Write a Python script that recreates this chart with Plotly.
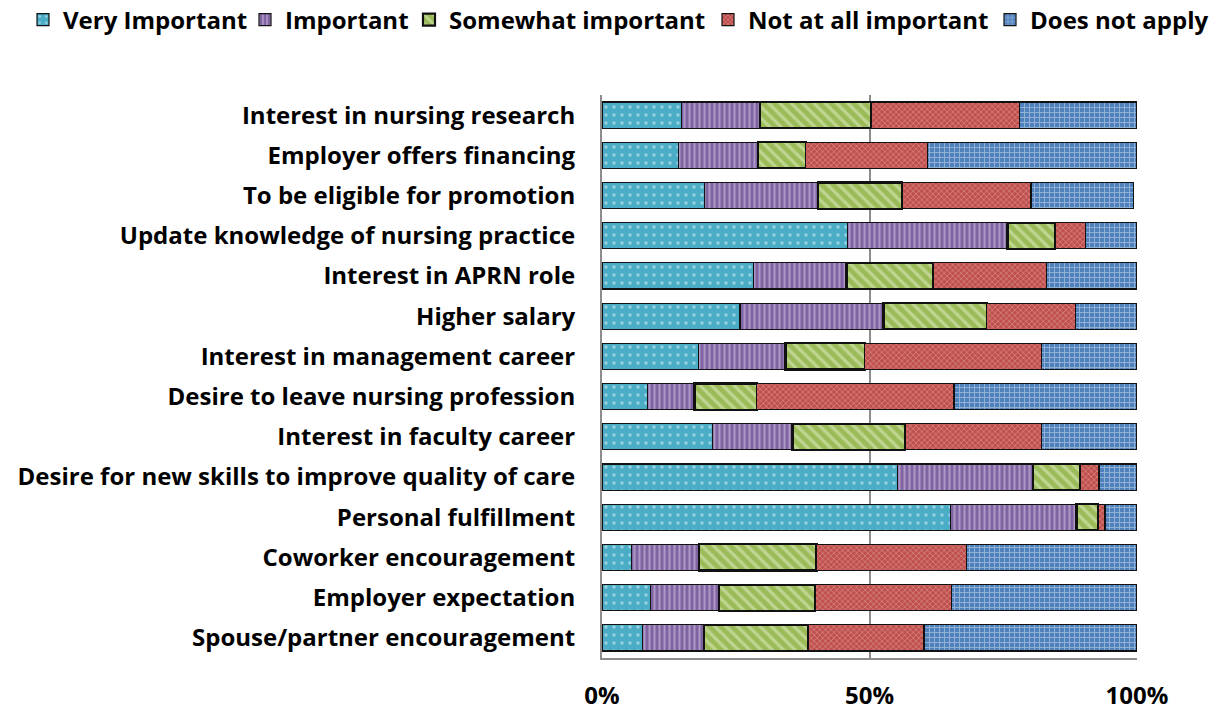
import plotly.graph_objects as go

categories = [
    "Interest in nursing research",
    "Employer offers financing",
    "To be eligible for promotion",
    "Update knowledge of nursing practice",
    "Interest in APRN role",
    "Higher salary",
    "Interest in management career",
    "Desire to leave nursing profession",
    "Interest in faculty career",
    "Desire for new skills to improve quality of care",
    "Personal fulfillment",
    "Coworker encouragement",
    "Employer expectation",
    "Spouse/partner encouragement",
]

very_important = [14.9, 14.3, 19.1, 45.9, 28.3, 25.8, 18.1, 8.5, 20.7, 55.2, 65.1, 5.5, 9.0, 7.5]
important = [14.7, 14.9, 21.2, 29.9, 17.4, 26.8, 16.2, 8.8, 14.9, 25.3, 23.6, 12.7, 12.8, 11.6]
somewhat_important = [20.7, 8.9, 15.8, 8.9, 16.2, 19.3, 14.8, 11.6, 21.1, 8.9, 4.0, 21.9, 18.0, 19.5]
not_at_all_important = [27.7, 22.7, 24.1, 5.6, 21.2, 16.6, 33.0, 36.9, 25.4, 3.5, 1.3, 28.0, 25.6, 21.6]
does_not_apply = [22.0, 39.2, 19.1, 9.7, 16.9, 11.5, 17.9, 34.2, 17.9, 7.1, 6.0, 31.9, 34.6, 39.8]

series_names = ["Very Important", "Important", "Somewhat important", "Not at all important", "Does not apply"]
series_values = [very_important, important, somewhat_important, not_at_all_important, does_not_apply]

tick_vals = [0, 50, 100]
tick_text = ["0%", "50%", "100%"]

styles = [
    dict(color="#4BACC6", shape=".", fg="#DDF3F8", size=8, sol=0.15, lw=1.2),
    dict(color="#8064A2", shape="|", fg="#D9CCEA", size=5, sol=0.4, lw=1.2),
    dict(color="#9BBB59", shape="\\", fg="#E3EFC8", size=8, sol=0.4, lw=2.2),
    dict(color="#C0504D", shape="x", fg="#F2CFCE", size=4, sol=0.3, lw=1.2),
    dict(color="#4F81BD", shape="+", fg="#D5E3F4", size=5, sol=0.35, lw=1.2),
]

# page body has an 8px margin; the figure is sized/positioned to compensate
OFF = 8
W, H = 1218 - OFF, 709 - OFF

# legend item text start positions (screen px)
legend_text_x = [63, 285, 449, 748, 1030]

FONT = "Open Sans"
FS = 24

fig = go.Figure()
legend_ids = ["legend", "legend2", "legend3", "legend4", "legend5"]
for name, vals, st, lid in zip(series_names, series_values, styles, legend_ids):
    fig.add_trace(go.Bar(
        name=name,
        y=categories,
        x=vals,
        orientation="h",
        legend=lid,
        marker=dict(
            color=st["color"],
            line=dict(color="#111111", width=st["lw"]),
            pattern=dict(shape=st["shape"], fgcolor=st["fg"], size=st["size"],
                         solidity=st["sol"], fillmode="overlay"),
        ),
    ))

legend_common = dict(
    orientation="h",
    xref="container", yref="container",
    xanchor="left", yanchor="middle",
    y=1 - (20 - OFF) / H,
    font=dict(family=FONT, size=FS, color="black", weight="bold"),
    itemwidth=30,
    bgcolor="rgba(0,0,0,0)",
    borderwidth=0,
)
layout_legends = {}
for lid, tx in zip(legend_ids, legend_text_x):
    d = dict(legend_common)
    d["x"] = (tx - OFF - 40) / W
    layout_legends[lid] = d

fig.update_layout(
    barmode="stack",
    bargap=0.35,
    width=W,
    height=H,
    margin=dict(l=602 - OFF, r=1218 - 1137, t=95 - OFF, b=709 - 658, autoexpand=False),
    plot_bgcolor="white",
    paper_bgcolor="white",
    font=dict(family=FONT, size=FS, color="black", weight="bold"),
    showlegend=True,
    **layout_legends,
)

fig.update_xaxes(
    range=[0, 100],
    tickvals=tick_vals,
    ticktext=tick_text,
    showgrid=True,
    gridcolor="#8C8C8C",
    gridwidth=2,
    showline=True,
    linecolor="#8C8C8C",
    linewidth=2,
    ticks="",
    ticklabelstandoff=15,
    zeroline=False,
    tickfont=dict(family=FONT, size=FS, color="black", weight="bold"),
)
fig.update_yaxes(
    categoryorder="array",
    categoryarray=categories,
    autorange="reversed",
    showline=True,
    linecolor="#8C8C8C",
    linewidth=2,
    ticks="",
    ticklabelstandoff=20,
    tickfont=dict(family=FONT, size=FS, color="black", weight="bold"),
)

fig.write_html("out.html")
